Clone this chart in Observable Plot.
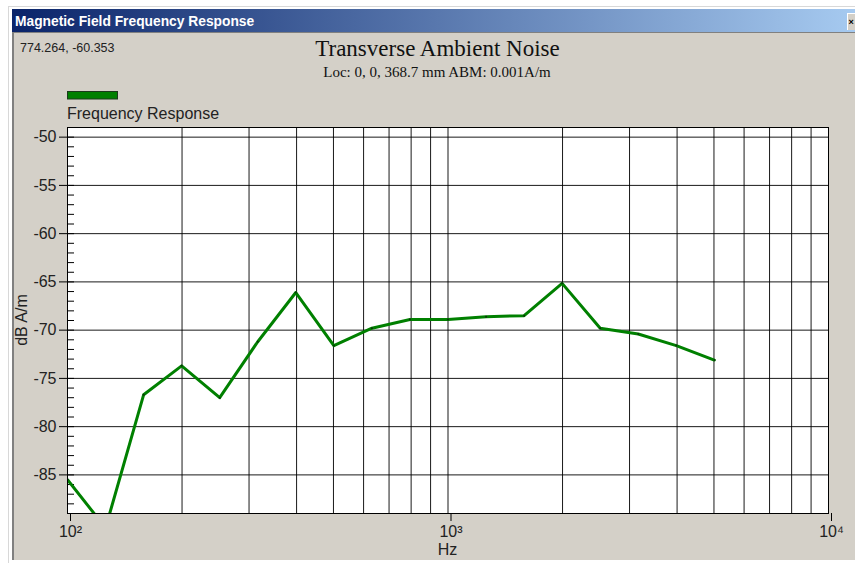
<!DOCTYPE html>
<html>
<head>
<meta charset="utf-8">
<script src="https://cdn.jsdelivr.net/npm/d3@7"></script>
<script src="https://cdn.jsdelivr.net/npm/@observablehq/plot@0.6"></script>
<style>
  html, body { margin: 0; padding: 0; background: #fff; width: 855px; height: 563px; overflow: hidden; }
  #wrap { position: relative; width: 855px; height: 563px; }
  .abs { position: absolute; }
</style>
</head>
<body>
<div id="wrap">
  <div class="abs" style="left:8px;top:6px;width:847px;height:556px;border-left:1px solid #d8d8d8;border-top:1px solid #d8d8d8;background:#fff;"></div>
  <div class="abs" style="left:12px;top:9px;width:843px;height:23px;background:linear-gradient(to right,#0a246a,#a6caf0);"></div>
  <div class="abs" style="left:12px;top:32px;width:843px;height:528px;background:#d4d0c8;border-top:1px solid #808080;border-left:2px solid #808080;box-sizing:border-box;"></div>
  <div class="abs" style="left:847px;top:13px;width:8px;height:17px;background:#d4d0c8;border-left:1px solid #fff;border-top:1px solid #fff;box-sizing:border-box;"></div>
  <svg id="chrome" class="abs" width="855" height="563" style="left:0;top:0;">
    <text x="15" y="26" fill="#fff" font-family="Liberation Sans" font-weight="bold" font-size="13.8">Magnetic Field Frequency Response</text>
    <text x="848.5" y="25" fill="#000" font-family="Liberation Sans" font-weight="bold" font-size="9">×</text>
    <text x="20" y="52" fill="#222" font-family="Liberation Sans" font-size="12.5">774.264, -60.353</text>
    <text x="437.5" y="55.5" fill="#111" text-anchor="middle" font-family="Liberation Serif" font-size="23">Transverse Ambient Noise</text>
    <text x="437" y="77" fill="#111" text-anchor="middle" font-family="Liberation Serif" font-size="15">Loc: 0, 0, 368.7 mm ABM: 0.001A/m</text>
    <rect x="67.5" y="91.5" width="50" height="7.5" fill="#008000" stroke="#1c3a1c" stroke-width="1"></rect>
    <text x="67" y="119" fill="#222" font-family="Liberation Sans" font-size="16">Frequency Response</text>
    <text transform="translate(27,320) rotate(-90)" fill="#222" text-anchor="middle" font-family="Liberation Sans" font-size="16">dB A/m</text>
    <text x="447.5" y="555" fill="#222" text-anchor="middle" font-family="Liberation Sans" font-size="16">Hz</text>
  </svg>
  <div id="plot" class="abs" style="left:0;top:0;"></div>
</div>
<script>
// Data (1/3-octave frequencies, dB A/m)
const freqs = [100, 125.9, 158.5, 199.5, 251.2, 316.2, 398.1, 501.2, 631.0, 794.3, 1000, 1259, 1585, 1995, 2512, 3162, 3981, 5012];
const values = [-85.5, -90.5, -76.7, -73.7, -77.0, -71.2, -66.1, -71.6, -69.8, -68.9, -68.9, -68.6, -68.5, -65.15, -69.8, -70.4, -71.6, -73.1];
const xMajorTicks = [100, 1000, 10000];
const xTickLabels = ["10²", "10³", "10⁴"];
const xGrid = [200, 300, 400, 500, 600, 700, 800, 900, 1000, 2000, 3000, 4000, 5000, 6000, 7000, 8000, 9000];
const yMajorTicks = [-85, -80, -75, -70, -65, -60, -55, -50];
const yMinorTicks = d3.range(-88, -49, 1);

const data = freqs.map((f, i) => ({f, v: values[i]}));

const chart = Plot.plot({
  width: 855,
  height: 563,
  marginLeft: 67,
  marginRight: 27,
  marginTop: 127,
  marginBottom: 50,
  style: {background: "transparent", fontFamily: "Liberation Sans", fontSize: "16px", color: "#222"},
  x: {type: "log", domain: [100, 10000], axis: null},
  y: {domain: [-89, -49], axis: null},
  marks: [
    Plot.frame({fill: "white", stroke: null}),
    Plot.gridX(xGrid, {stroke: "#000", strokeOpacity: 0.9, strokeWidth: 1}),
    Plot.gridY(yMajorTicks, {stroke: "#000", strokeOpacity: 0.9, strokeWidth: 1}),
    Plot.axisY(yMinorTicks, {anchor: "left", tickSize: -7, tickFormat: () => "", label: null, stroke: "#000"}),
    Plot.axisY(yMajorTicks, {anchor: "left", tickSize: 8, tickPadding: 3, tickFormat: d => String(d), label: null, fontSize: 16, fill: "#222", stroke: "#000"}),
    Plot.axisX(xMajorTicks, {anchor: "bottom", tickSize: 8, tickPadding: 4, tickFormat: (d, i) => xTickLabels[xMajorTicks.indexOf(d)], label: null, fontSize: 16, fill: "#222", stroke: "#000", dx: 3}),
    Plot.line(data, {x: "f", y: "v", stroke: "#008000", strokeWidth: 3, clip: true}),
    Plot.dot(data, {x: "f", y: "v", r: 1, fill: "#0b300b", stroke: null, clip: true}),
    Plot.frame({stroke: "#000", fill: null})
  ]
});
document.getElementById("plot").appendChild(chart);
</script>
</body>
</html>
